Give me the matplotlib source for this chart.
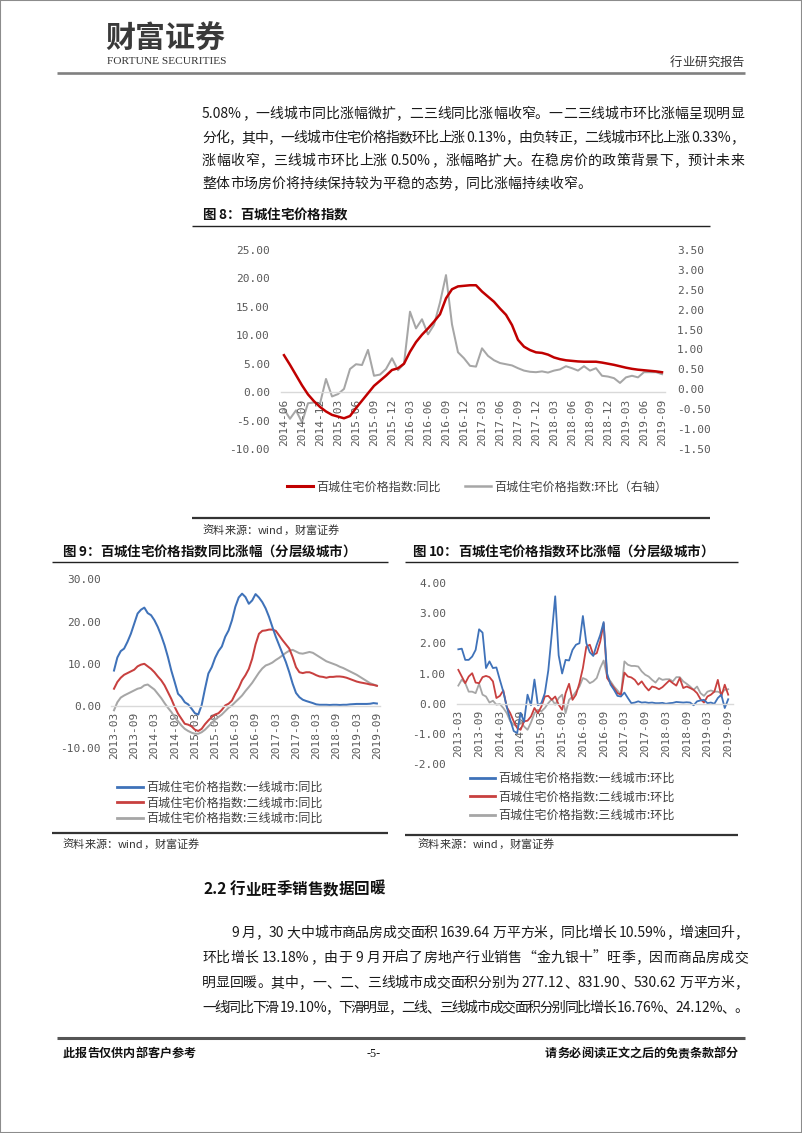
import matplotlib
matplotlib.use('Agg')
import matplotlib.pyplot as plt
from matplotlib.lines import Line2D
from matplotlib.patches import Rectangle
from matplotlib.font_manager import FontProperties, findfont, get_font, fontManager
from matplotlib.ticker import FormatStrFormatter

W, H = 802, 1133
CJK_FAMILY = 'Noto Sans CJK SC'
MONO = 'DejaVu Sans Mono'
plt.rcParams['font.family'] = [CJK_FAMILY, 'DejaVu Sans']

# ---------------- data ----------------
ticks8 = ['2014-06', '2014-09', '2014-12', '2015-03', '2015-06', '2015-09', '2015-12',
          '2016-03', '2016-06', '2016-09', '2016-12', '2017-03', '2017-06', '2017-09',
          '2017-12', '2018-03', '2018-06', '2018-09', '2018-12', '2019-03', '2019-06',
          '2019-09']
yoy8 = [6.5, 4.8, 3.0, 1.2, -0.4, -1.6, -2.6,
        -3.4, -4.0, -4.3, -4.6, -4.2, -2.8, -1.5, -0.2, 1.1, 2.0, 2.9, 3.9,
        4.2, 5.0, 7.1, 8.8, 10.1, 11.2, 12.4, 13.7, 16.5, 18.1, 18.6, 18.7,
        18.8, 18.8, 17.7, 16.8, 15.9, 14.7, 13.6, 11.8, 9.2, 8.0, 7.4, 7.0,
        6.9, 6.6, 6.1, 5.8, 5.6, 5.5, 5.4, 5.35, 5.35, 5.35, 5.2, 5.0,
        4.8, 4.55, 4.3, 4.1, 3.95, 3.85, 3.75, 3.65, 3.5]
mom8 = [-0.5, -0.74, -0.53, -0.83, -0.35, -0.33, -0.36,
        0.26, -0.18, -0.12, 0.01, 0.51, 0.63, 0.61, 0.99, 0.34, 0.37, 0.51, 0.78,
        0.48, 0.64, 1.95, 1.53, 1.76, 1.38, 1.62, 2.18, 2.87, 1.63, 0.93, 0.78,
        0.59, 0.57, 1.03, 0.84, 0.73, 0.66, 0.63, 0.60, 0.53, 0.47, 0.44, 0.43,
        0.45, 0.42, 0.47, 0.50, 0.58, 0.53, 0.47, 0.58, 0.47, 0.53, 0.34, 0.32,
        0.28, 0.16, 0.30, 0.34, 0.30, 0.43, 0.43, 0.43, 0.38]
yticks8_left = [-10, -5, 0, 5, 10, 15, 20, 25]
yticks8_right = [-1.5, -1.0, -0.5, 0.0, 0.5, 1.0, 1.5, 2.0, 2.5, 3.0, 3.5]
legend8 = ['百城住宅价格指数:同比', '百城住宅价格指数:环比（右轴）']

ticks9 = ['2013-03', '2013-09', '2014-03', '2014-09', '2015-03', '2015-09', '2016-03',
          '2016-09', '2017-03', '2017-09', '2018-03', '2018-09', '2019-03', '2019-09']
tier1_yoy = [8.4, 11.5, 13.0, 13.6, 15.2, 17.1, 19.5, 21.9, 22.8, 23.3,
             22.0, 21.5, 20.3, 18.7, 16.7, 14.4, 11.6, 8.4, 5.7, 2.9,
             2.1, 0.9, 0.4, -0.6, -1.7, -2.0, 0.2, 4.1, 7.7, 9.2,
             11.4, 13.0, 14.1, 16.4, 17.9, 20.3, 23.5, 25.7, 26.6, 25.8,
             24.2, 25.0, 26.5, 25.7, 24.6, 23.1, 21.1, 18.7, 16.4, 14.4,
             12.4, 10.4, 8.0, 5.3, 3.1, 2.1, 1.5, 1.2, 0.95, 0.7,
             0.4, 0.3, 0.3, 0.3, 0.25, 0.3, 0.3, 0.25, 0.3, 0.3,
             0.4, 0.45, 0.5, 0.5, 0.5, 0.5, 0.55, 0.7, 0.6]
tier2_yoy = [4.1, 5.7, 6.7, 7.4, 7.8, 8.2, 8.6, 9.4, 9.8, 10.0,
             9.4, 8.8, 8.0, 7.0, 6.1, 4.9, 3.3, 1.7, -0.2, -1.8,
             -3.0, -4.2, -4.4, -4.8, -5.6, -5.9, -5.4, -4.3, -3.4, -2.6,
             -2.0, -1.7, -0.9, 0.15, 0.55, 1.3, 2.9, 4.3, 6.1, 7.3,
             8.8, 11.2, 14.6, 17.1, 17.8, 17.9, 18.1, 18.1, 17.8, 16.7,
             15.6, 14.6, 13.6, 11.6, 9.2, 8.0, 7.8, 8.0, 8.0, 7.7,
             7.3, 7.0, 6.9, 6.7, 6.9, 6.9, 7.0, 7.0, 6.9, 6.7,
             6.4, 6.1, 5.8, 5.6, 5.45, 5.3, 5.1, 5.0, 4.8]
tier3_yoy = [-1.0, 0.9, 2.0, 2.5, 2.9, 3.3, 3.7, 4.1, 4.3, 4.9,
             5.1, 4.5, 3.9, 2.9, 1.9, 0.7, -0.4, -1.4, -2.6, -3.6,
             -4.6, -5.4, -5.9, -6.3, -6.55, -6.55, -6.2, -5.6, -4.8, -4.0,
             -3.2, -2.6, -2.0, -1.2, -0.4, 0.15, 0.95, 1.7, 2.5, 3.55,
             4.5, 5.5, 6.7, 7.9, 8.9, 9.6, 9.9, 10.3, 10.9, 11.4,
             12.0, 12.6, 13.1, 13.3, 12.9, 12.5, 12.4, 12.6, 12.8, 12.6,
             12.1, 11.6, 11.1, 10.6, 10.3, 10.0, 9.7, 9.3, 9.0, 8.6,
             8.2, 7.8, 7.4, 6.9, 6.4, 5.9, 5.4, 5.1, 4.8]
yticks9 = [-10, 0, 10, 20, 30]
legend9 = ['百城住宅价格指数:一线城市:同比', '百城住宅价格指数:二线城市:同比',
           '百城住宅价格指数:三线城市:同比']

tier1_mom = [1.8, 1.82, 1.45, 1.45, 1.56, 1.78, 2.46, 2.35, 1.18, 1.4,
             1.18, 1.2, 0.79, 0.4, -0.1, -0.53, -0.9, -0.97, -0.3, -0.6,
             0.3, -0.05, 0.8, -0.05, 0.02, 0.35, 1.1, 2.3, 3.55, 1.6,
             1.0, 1.45, 1.43, 1.78, 1.95, 2.0, 2.9, 2.0, 1.7, 1.58,
             1.95, 2.27, 2.7, 1.0, 0.63, 0.46, 0.26, 0.24, 0.37, 0.19,
             0.02, 0.04, 0.08, 0.04, 0.05, 0.03, 0.04, 0.02, 0.02, 0.03,
             0.0, 0.02, 0.03, 0.06, 0.05, 0.04, 0.05, 0.04, -0.05, 0.08,
             0.11, 0.13, 0.02, 0.04, 0.0, 0.19, 0.3, -0.14, 0.15]
tier2_mom = [1.12, 0.9, 0.68, 0.9, 1.01, 0.7, 0.68, 0.88, 0.92, 0.88,
             0.74, 0.19, 0.26, 0.44, -0.11, -0.31, -0.58, -0.8, -0.86, -0.58,
             -0.56, -0.42, -0.14, -0.31, -0.09, 0.24, 0.26, 0.13, 0.24, -0.03,
             -0.2, 0.35, 0.66, 0.13, 0.3, 0.68, 1.18, 1.89, 1.95, 1.62,
             1.67, 2.05, 2.66, 0.85, 0.68, 0.52, 0.35, 0.3, 1.03, 0.9,
             0.87, 0.79, 0.63, 0.74, 0.57, 0.44, 0.57, 0.54, 0.48, 0.55,
             0.66, 0.77, 0.68, 0.6, 0.85, 0.52, 0.57, 0.52, 0.46, 0.35,
             0.15, 0.04, 0.24, 0.3, 0.4, 0.79, 0.24, 0.63, 0.3]
tier3_mom = [0.6, 0.8, 0.68, 0.4, 0.4, 0.35, 0.66, 0.3, 0.24, 0.04,
             0.1, -0.03, -0.01, -0.14, -0.31, -0.58, -0.69, -0.75, -0.58, -0.75,
             -0.86, -0.62, -0.31, -0.2, -0.25, -0.14, 0.02, 0.15, -0.03, 0.19,
             0.3, -0.31, 0.13, 0.24, 0.4, 0.57, 0.85, 0.8, 0.68, 0.74,
             0.85, 1.18, 1.43, 0.9, 0.74, 0.57, 0.44, 0.3, 1.4, 1.29,
             1.25, 1.25, 1.23, 1.07, 0.96, 0.9, 0.79, 0.7, 0.85, 0.79,
             0.81, 0.81, 0.74, 0.88, 0.88, 0.74, 0.66, 0.57, 0.46, 0.57,
             0.35, 0.26, 0.4, 0.44, 0.4, 0.4, 0.35, 0.46, 0.48]
yticks10 = [-2, -1, 0, 1, 2, 3, 4]
legend10 = ['百城住宅价格指数:一线城市:环比', '百城住宅价格指数:二线城市:环比',
            '百城住宅价格指数:三线城市:环比']

para1 = ['5.08%，一线城市同比涨幅微扩，二三线同比涨幅收窄。一二三线城市环比涨幅呈现明显',
         '分化，其中，一线城市住宅价格指数环比上涨 0.13%，由负转正，二线城市环比上涨 0.33%，',
         '涨幅收窄，三线城市环比上涨 0.50%，涨幅略扩大。在稳房价的政策背景下，预计未来',
         '整体市场房价将持续保持较为平稳的态势，同比涨幅持续收窄。']
para2 = ['9 月，30 大中城市商品房成交面积 1639.64 万平方米，同比增长 10.59%，增速回升，',
         '环比增长 13.18%，由于 9 月开启了房地产行业销售“金九银十”旺季，因而商品房成交',
         '明显回暖。其中，一、二、三线城市成交面积分别为 277.12、831.90、530.62 万平方米，',
         '一线同比下滑 19.10%，下滑明显，二线、三线城市成交面积分别同比增长 16.76%、24.12%、。']

RED8, GRAY8 = '#C00000', '#A6A6A6'
BLUE, RED, GRAY = '#3F72B9', '#C8403F', '#A6A6A6'
TICKC = '#595959'

# ---------------- helpers ----------------
fig = plt.figure(figsize=(W / 100, H / 100), dpi=100)
fig.patch.set_facecolor('white')


def fx(x):
    return x / W


def fy(y):
    return 1 - y / H


def add_ax(l, t, r, b):
    return fig.add_axes([l / W, 1 - b / H, (r - l) / W, (b - t) / H])


def hline(x0, x1, y, lw, color):
    fig.add_artist(Line2D([fx(x0), fx(x1)], [fy(y), fy(y)], transform=fig.transFigure,
                          lw=lw, color=color, solid_capstyle='butt'))


def tokenize(s):
    toks, run = [], ''
    for ch in s:
        if ord(ch) < 128 and ch != ' ':
            run += ch
        else:
            if run:
                toks.append(run)
                run = ''
            toks.append(ch)
    if run:
        toks.append(run)
    return toks


def advance(s, prop):
    font = get_font(findfont(prop))
    font.set_size(prop.get_size_in_points(), 100)
    return sum(font.load_char(ord(c)).linearHoriAdvance / 65536 for c in s)


def draw_line(s, x0, yb, size, x1=None, weight='normal', color='#1a1a1a', family=CJK_FAMILY):
    prop = FontProperties(family=family, size=size, weight=weight)
    toks = tokenize(s)
    ws = [advance(t, prop) for t in toks]
    gap = 0.0
    if x1 is not None and len(toks) > 1:
        gap = (x1 - x0 - sum(ws)) / (len(toks) - 1)
    x = x0
    for t, w in zip(toks, ws):
        if t != ' ':
            fig.text(fx(x), fy(yb), t, fontproperties=prop, color=color,
                     ha='left', va='baseline')
        x += w + gap


def fit_text(s, x0, x1, yb, family, weight='normal', color='#333333'):
    prop = FontProperties(family=family, size=10, weight=weight)
    w = advance(s, prop)
    prop.set_size(10 * (x1 - x0) / w)
    fig.text(fx(x0), fy(yb), s, fontproperties=prop, color=color, ha='left', va='baseline')


def month_index(label, start):
    y, m = map(int, label.split('-'))
    y0, m0 = map(int, start.split('-'))
    return (y - y0) * 12 + (m - m0)


def style_axes(ax, ticks, start, yticks, ypad, xpad):
    for s in ax.spines.values():
        s.set_visible(False)
    ax.spines['bottom'].set_visible(True)
    ax.spines['bottom'].set_position(('data', 0))
    ax.spines['bottom'].set_color('#D9D9D9')
    ax.spines['bottom'].set_linewidth(1.0)
    ax.set_facecolor('none')
    ax.set_xticks([month_index(t, start) for t in ticks])
    ax.set_xticklabels(ticks, rotation=90)
    ax.set_yticks(yticks)
    ax.yaxis.set_major_formatter(FormatStrFormatter('%.2f'))
    ax.tick_params(axis='both', length=0, labelsize=8, labelcolor=TICKC,
                   labelfontfamily=MONO)
    ax.tick_params(axis='y', pad=ypad)
    ax.tick_params(axis='x', pad=xpad)


# ---------------- page frame & header ----------------
fig.add_artist(Rectangle((0, 0), 1, 1, transform=fig.transFigure, fill=False,
                         ec='#8c8c8c', lw=1.5))
fit_text('财富证券', 105, 225, 48, CJK_FAMILY, weight='bold', color='#3a3a3a')
names = {f.name for f in fontManager.ttflist}
narrow = 'Liberation Sans Narrow' if 'Liberation Sans Narrow' in names else 'Liberation Serif'
fit_text('FORTUNE SECURITIES', 107, 227, 64, narrow, color='#333333')
draw_line('行业研究报告', 670, 66, 8.9, color='#333333')
hline(57, 745, 73, 1.9, '#808080')

for i, ln in enumerate(para1):
    draw_line(ln, 202, [118, 142, 165, 188][i], 10,
              x1=744 if i < len(para1) - 1 else None)

# ---------------- chart 8 ----------------
draw_line('图 8：百城住宅价格指数', 202, 219, 9.7, weight='bold', color='#111111')
hline(192, 710, 226, 1.0, '#222222')

ax8 = add_ax(281, 250, 665, 449)
x8 = list(range(len(yoy8)))
ax8.plot(x8, yoy8, color=RED8, lw=1.8, zorder=3)
ax8.set_xlim(-0.5, len(yoy8) - 0.5)
ax8.set_ylim(-10, 25)
style_axes(ax8, ticks8, ticks8[0], yticks8_left, 8, 5)
ax8b = ax8.twinx()
ax8b.plot(x8, mom8, color=GRAY8, lw=1.45)
ax8b.set_ylim(-1.5, 3.5)
for s in ax8b.spines.values():
    s.set_visible(False)
ax8b.set_yticks(yticks8_right)
ax8b.yaxis.set_major_formatter(FormatStrFormatter('%.2f'))
ax8b.tick_params(axis='y', length=0, labelsize=8, labelcolor=TICKC,
                 labelfontfamily=MONO, pad=8.6)
ax8.set_zorder(2)
ax8b.set_zorder(1)

leg_prop = FontProperties(family=[CJK_FAMILY, 'DejaVu Sans'], size=8.7)
fig.legend([Line2D([], [], color=RED8, lw=2.2), Line2D([], [], color=GRAY8, lw=1.8)],
           legend8, loc='center left', bbox_to_anchor=(fx(287), fy(487)), ncol=2,
           frameon=False, prop=leg_prop, handlelength=2.15, handletextpad=0.25,
           columnspacing=2.0, borderpad=0, borderaxespad=0, labelcolor='#404040')
hline(192, 710, 518, 1.6, '#333333')
draw_line('资料来源：wind，财富证券', 202, 534, 8, color='#333333')

# ---------------- chart 9 ----------------
draw_line('图 9：百城住宅价格指数同比涨幅（分层级城市）', 62, 556, 9.7, weight='bold',
          color='#111111')
hline(52, 388, 562, 1.0, '#222222')
ax9 = add_ax(111.3, 579.3, 379.6, 748.3)
x9 = list(range(len(tier1_yoy)))
ax9.plot(x9, tier3_yoy, color=GRAY, lw=1.45)
ax9.plot(x9, tier2_yoy, color=RED, lw=1.45)
ax9.plot(x9, tier1_yoy, color=BLUE, lw=1.45)
ax9.set_xlim(-0.8, len(x9) - 0.2)
ax9.set_ylim(-10, 30)
style_axes(ax9, ticks9, ticks9[0], yticks9, 7.4, 4.3)
fig.legend([Line2D([], [], color=c, lw=2.0) for c in (BLUE, RED, GRAY)], legend9,
           loc='center left', bbox_to_anchor=(fx(117), fy(803)), ncol=1,
           frameon=False, prop=leg_prop, handlelength=2.15, handletextpad=0.25,
           labelspacing=0.2, borderpad=0, borderaxespad=0, labelcolor='#404040')
hline(52, 388, 833, 1.6, '#333333')
draw_line('资料来源：wind，财富证券', 62, 848, 8, color='#333333')

# ---------------- chart 10 ----------------
draw_line('图 10：百城住宅价格指数环比涨幅（分层级城市）', 412, 556, 9.7, weight='bold',
          color='#111111')
hline(405, 738, 562, 1.0, '#222222')
ax10 = add_ax(456.6, 582.7, 733.4, 764.3)
x10 = list(range(len(tier1_mom)))
ax10.plot(x10, tier3_mom, color=GRAY, lw=1.3)
ax10.plot(x10, tier2_mom, color=RED, lw=1.3)
ax10.plot(x10, tier1_mom, color=BLUE, lw=1.3)
ax10.set_xlim(-0.5, len(x10) + 0.5)
ax10.set_ylim(-2, 4)
style_axes(ax10, ticks9, ticks9[0], yticks10, 7.6, 4.3)
fig.legend([Line2D([], [], color=c, lw=2.0) for c in (BLUE, RED, GRAY)], legend10,
           loc='center left', bbox_to_anchor=(fx(470), fy(797)), ncol=1,
           frameon=False, prop=leg_prop, handlelength=2.07, handletextpad=0.25,
           labelspacing=0.45, borderpad=0, borderaxespad=0, labelcolor='#404040')
hline(405, 738, 835, 1.6, '#333333')
draw_line('资料来源：wind，财富证券', 417, 848, 8, color='#333333')

# ---------------- section 2.2 ----------------
draw_line('2.2 行业旺季销售数据回暖', 203, 894, 11.2, weight='bold', color='#111111')
for i, ln in enumerate(para2):
    draw_line(ln, 231 if i == 0 else 202, [937, 962, 987, 1012][i], 10, x1=748)

# ---------------- footer ----------------
hline(57, 745, 1038, 2.2, '#555555')
draw_line('此报告仅供内部客户参考', 63, 1057, 8.7, weight='bold', color='#111111')
fig.text(fx(374), fy(1057), '-5-', fontsize=8.7, ha='center', va='baseline',
         color='#111111', family='Liberation Serif')
draw_line('请务必阅读正文之后的免责条款部分', 545, 1057, 8.7, x1=738, weight='bold',
          color='#111111')

fig.savefig('out.png', dpi=100, facecolor='white')
